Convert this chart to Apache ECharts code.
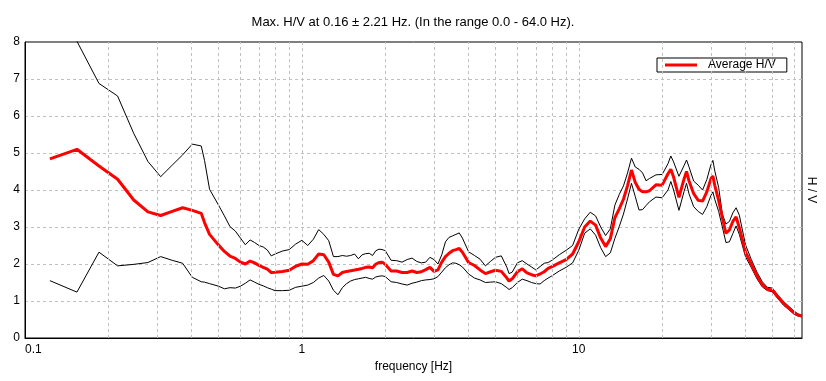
<!DOCTYPE html>
<html>
<head>
<meta charset="utf-8">
<script src="https://cdn.jsdelivr.net/npm/echarts@6/dist/echarts.min.js"></script>
<style>
html,body{margin:0;padding:0;background:#fff;}
#chart{width:826px;height:381px;}
</style>
</head>
<body>
<div id="chart"></div>
<script>
// Frequencies (Hz)
const freqHz = [
  0.123, 0.154, 0.185, 0.216, 0.247, 0.278, 0.309, 0.340, 0.371, 0.402, 0.433, 0.445, 0.464,
  0.5, 0.525, 0.55, 0.575, 0.6, 0.625, 0.65, 0.675, 0.7, 0.725, 0.75, 0.775, 0.8, 0.85, 0.9, 0.95,
  1.0, 1.05, 1.1, 1.15, 1.2, 1.25, 1.3, 1.35, 1.4, 1.45, 1.5, 1.55, 1.6, 1.65, 1.7, 1.75, 1.8, 1.85, 1.9, 1.95,
  2.0, 2.1, 2.2, 2.3, 2.4, 2.5, 2.6, 2.7, 2.8, 2.9, 3.0, 3.1, 3.2, 3.3, 3.4, 3.5, 3.6, 3.7, 3.8,
  4.0, 4.2, 4.4, 4.6, 4.8, 5.0, 5.25, 5.5, 5.6, 5.75, 6.0, 6.25, 6.5, 6.75, 7.0, 7.25, 7.5, 7.75, 8.0, 8.5, 9.0, 9.5,
  10, 10.5, 11, 11.5, 12, 12.5, 13, 13.5, 14, 14.5, 15, 15.5, 16, 16.5, 17, 17.5, 18, 19,
  20, 21, 21.5, 22, 23, 24, 24.5, 25, 26, 27, 28, 29, 30, 30.5, 31, 32, 33, 34, 35, 36, 37, 38,
  40, 42, 44, 46, 48, 50, 52.5, 55, 57.5, 60, 62, 64
];
// Average H/V
const avgHV = [
  4.84, 5.10, 4.65, 4.29, 3.73, 3.41, 3.31, 3.42, 3.52, 3.45, 3.37, 3.12, 2.80,
  2.51, 2.34, 2.21, 2.15, 2.05, 2.00, 2.08, 2.03, 1.96, 1.91, 1.86, 1.77, 1.78, 1.80, 1.83, 1.94,
  2.00, 1.99, 2.09, 2.27, 2.25, 2.05, 1.72, 1.68, 1.77, 1.80, 1.82, 1.84, 1.86, 1.88, 1.91, 1.92, 1.90, 2.00, 2.04, 2.05,
  1.99, 1.81, 1.81, 1.77, 1.77, 1.81, 1.77, 1.79, 1.85, 1.91, 1.80, 1.84, 2.05, 2.20, 2.29, 2.36, 2.39, 2.42, 2.32,
  2.04, 1.96, 1.84, 1.74, 1.79, 1.83, 1.80, 1.62, 1.54, 1.60, 1.79, 1.87, 1.76, 1.71, 1.68, 1.73, 1.79, 1.88, 1.93, 2.03, 2.12, 2.27,
  2.60, 3.00, 3.16, 3.05, 2.70, 2.47, 2.68, 3.25, 3.49, 3.75, 4.12, 4.54, 4.20, 4.02, 3.95, 3.95, 3.98, 4.14,
  4.13, 4.44, 4.56, 4.35, 3.80, 4.30, 4.50, 4.25, 3.90, 3.72, 3.70, 3.95, 4.30, 4.38, 4.12, 3.72, 3.25, 2.83, 2.92, 3.15, 3.27, 2.98,
  2.33, 2.00, 1.68, 1.44, 1.32, 1.30, 1.10, 0.93, 0.80, 0.68, 0.62, 0.59
];
// Upper bound (mean + std)
const upperHV = [
  9.30, 8.02, 6.88, 6.54, 5.53, 4.77, 4.36, 4.67, 4.95, 5.24, 5.19, 4.80, 4.02,
  3.59, 3.30, 3.01, 2.89, 2.70, 2.52, 2.65, 2.58, 2.50, 2.46, 2.38, 2.22, 2.27, 2.35, 2.39, 2.54,
  2.64, 2.50, 2.67, 2.93, 2.80, 2.63, 2.20, 2.20, 2.23, 2.21, 2.23, 2.27, 2.14, 2.25, 2.28, 2.29, 2.23, 2.36, 2.40, 2.39,
  2.36, 2.10, 2.09, 2.05, 2.12, 2.16, 2.07, 2.03, 2.05, 2.18, 2.12, 2.00, 2.25, 2.60, 2.72, 2.76, 2.80, 2.84, 2.70,
  2.33, 2.23, 2.13, 1.95, 2.07, 2.18, 2.22, 1.91, 1.74, 1.78, 2.03, 2.09, 2.00, 1.92, 1.84, 1.93, 2.02, 2.04, 2.10, 2.25, 2.37, 2.50,
  2.94, 3.22, 3.40, 3.30, 3.00, 2.77, 2.95, 3.59, 3.88, 4.11, 4.46, 4.86, 4.62, 4.56, 4.46, 4.25, 4.31, 4.41,
  4.42, 4.71, 4.92, 4.76, 4.37, 4.66, 4.81, 4.63, 4.24, 4.13, 4.00, 4.28, 4.68, 4.80, 4.51, 4.07, 3.35, 3.08, 3.15, 3.38, 3.52, 3.32,
  2.52, 2.12, 1.78, 1.52, 1.37, 1.35, 1.15, 0.98, 0.85, 0.72, 0.65, 0.61
];
// Lower bound (mean - std)
const lowerHV = [
  1.55, 1.24, 2.32, 1.95, 1.99, 2.04, 2.20, 2.10, 2.02, 1.64, 1.52, 1.51, 1.47,
  1.40, 1.33, 1.36, 1.35, 1.40, 1.48, 1.57, 1.51, 1.45, 1.41, 1.36, 1.32, 1.28, 1.28, 1.29, 1.37,
  1.40, 1.43, 1.50, 1.62, 1.69, 1.54, 1.29, 1.17, 1.36, 1.47, 1.54, 1.58, 1.60, 1.62, 1.64, 1.61, 1.59, 1.65, 1.67, 1.68,
  1.66, 1.52, 1.50, 1.46, 1.43, 1.48, 1.51, 1.55, 1.57, 1.58, 1.60, 1.66, 1.78, 1.90, 1.98, 2.03, 2.02, 1.98, 1.92,
  1.73, 1.62, 1.57, 1.50, 1.51, 1.52, 1.47, 1.36, 1.31, 1.36, 1.50, 1.59, 1.55, 1.50, 1.47, 1.46, 1.55, 1.62, 1.68, 1.81, 1.91, 2.03,
  2.37, 2.83, 2.95, 2.78, 2.44, 2.20, 2.30, 2.69, 3.01, 3.35, 3.76, 4.18, 3.82, 3.46, 3.47, 3.58, 3.68, 3.81,
  3.79, 4.00, 4.23, 4.00, 3.45, 3.96, 4.18, 3.90, 3.55, 3.42, 3.34, 3.55, 3.85, 3.95, 3.74, 3.42, 3.00, 2.58, 2.60, 2.82, 3.03, 2.80,
  2.20, 1.90, 1.60, 1.38, 1.28, 1.25, 1.05, 0.88, 0.76, 0.64, 0.59, 0.57
];
// Minor grid frequencies (log decades)
const minorGridHz = [0.2, 0.3, 0.4, 0.5, 0.6, 0.7, 0.8, 0.9, 2, 3, 4, 5, 6, 7, 8, 9, 20, 30, 40, 50, 60];
const titleText = 'Max. H/V at 0.16 \u00b1 2.21 Hz. (In the range 0.0 - 64.0 Hz).';

const FONT = 'Liberation Sans, Arial, sans-serif';
const gridColor = '#c0c0c0';
const pairs = arr => freqHz.map((f, i) => [f, arr[i]]);

const chart = echarts.init(document.getElementById('chart'), null, {renderer: 'canvas'});
chart.setOption({
  animation: false,
  backgroundColor: '#ffffff',
  textStyle: {fontFamily: FONT, color: '#000'},
  title: {
    text: titleText,
    left: 'center',
    top: 11,
    textStyle: {fontFamily: FONT, fontSize: 13, fontWeight: 'normal', color: '#000'}
  },
  legend: {
    data: ['Average H/V'],
    left: 657,
    top: 58,
    icon: 'rect',
    itemWidth: 32,
    itemHeight: 3,
    itemGap: 0,
    padding: [1, 11, 1, 8],
    borderColor: '#000',
    borderWidth: 1,
    backgroundColor: '#fff',
    textStyle: {fontFamily: FONT, fontSize: 12, color: '#000', padding: [0, 0, 0, 6]}
  },
  grid: {left: 25, right: 24, top: 42, bottom: 43, show: true, borderColor: '#000', borderWidth: 1, backgroundColor: '#fff'},
  xAxis: {
    type: 'log',
    logBase: 10,
    min: 0.1,
    max: 64,
    name: 'frequency [Hz]',
    nameLocation: 'middle',
    nameGap: 15,
    nameTextStyle: {fontFamily: FONT, fontSize: 12, color: '#000'},
    axisLine: {show: true, lineStyle: {color: '#000', width: 1}},
    axisTick: {show: false},
    axisLabel: {
      fontFamily: FONT, fontSize: 12, color: '#000', margin: 6,
      alignMinLabel: 'left',
      formatter: function (v) {
        const l = Math.log10(v);
        return Math.abs(l - Math.round(l)) < 1e-6 ? String(+v.toPrecision(3)) : '';
      }
    },
    splitLine: {show: true, showMinLine: false, showMaxLine: false, lineStyle: {color: gridColor, type: [3, 3], width: 1}}
  },
  yAxis: {
    type: 'value',
    min: 0,
    max: 8,
    interval: 1,
    axisLine: {show: true, lineStyle: {color: '#000', width: 1}},
    axisTick: {show: false},
    axisLabel: {fontFamily: FONT, fontSize: 12, color: '#000', margin: 5},
    splitLine: {show: true, showMinLine: false, showMaxLine: false, lineStyle: {color: gridColor, type: [3, 3], width: 1}}
  },
  graphic: [{
    type: 'text',
    x: 811,
    y: 190,
    rotation: -Math.PI / 2,
    style: {text: 'H / V', font: '12px ' + FONT, fill: '#000', align: 'center', verticalAlign: 'middle'}
  }],
  series: [
    {
      name: 'grid-minor',
      type: 'line',
      data: [],
      z: 1,
      silent: true,
      markLine: {
        silent: true,
        symbol: 'none',
        animation: false,
        label: {show: false},
        lineStyle: {color: gridColor, type: [3, 3], width: 1},
        data: minorGridHz.map(v => ({xAxis: v}))
      }
    },
    {
      name: 'Upper',
      type: 'line',
      data: pairs(upperHV),
      showSymbol: false,
      symbol: 'none',
      clip: true,
      z: 3,
      lineStyle: {color: '#000', width: 1},
      itemStyle: {color: '#000'}
    },
    {
      name: 'Lower',
      type: 'line',
      data: pairs(lowerHV),
      showSymbol: false,
      symbol: 'none',
      clip: true,
      z: 3,
      lineStyle: {color: '#000', width: 1},
      itemStyle: {color: '#000'}
    },
    {
      name: 'Average H/V',
      type: 'line',
      data: pairs(avgHV),
      showSymbol: false,
      symbol: 'none',
      clip: true,
      z: 4,
      lineStyle: {color: '#ff0000', width: 3},
      itemStyle: {color: '#ff0000'}
    }
  ]
});
</script>
</body>
</html>
